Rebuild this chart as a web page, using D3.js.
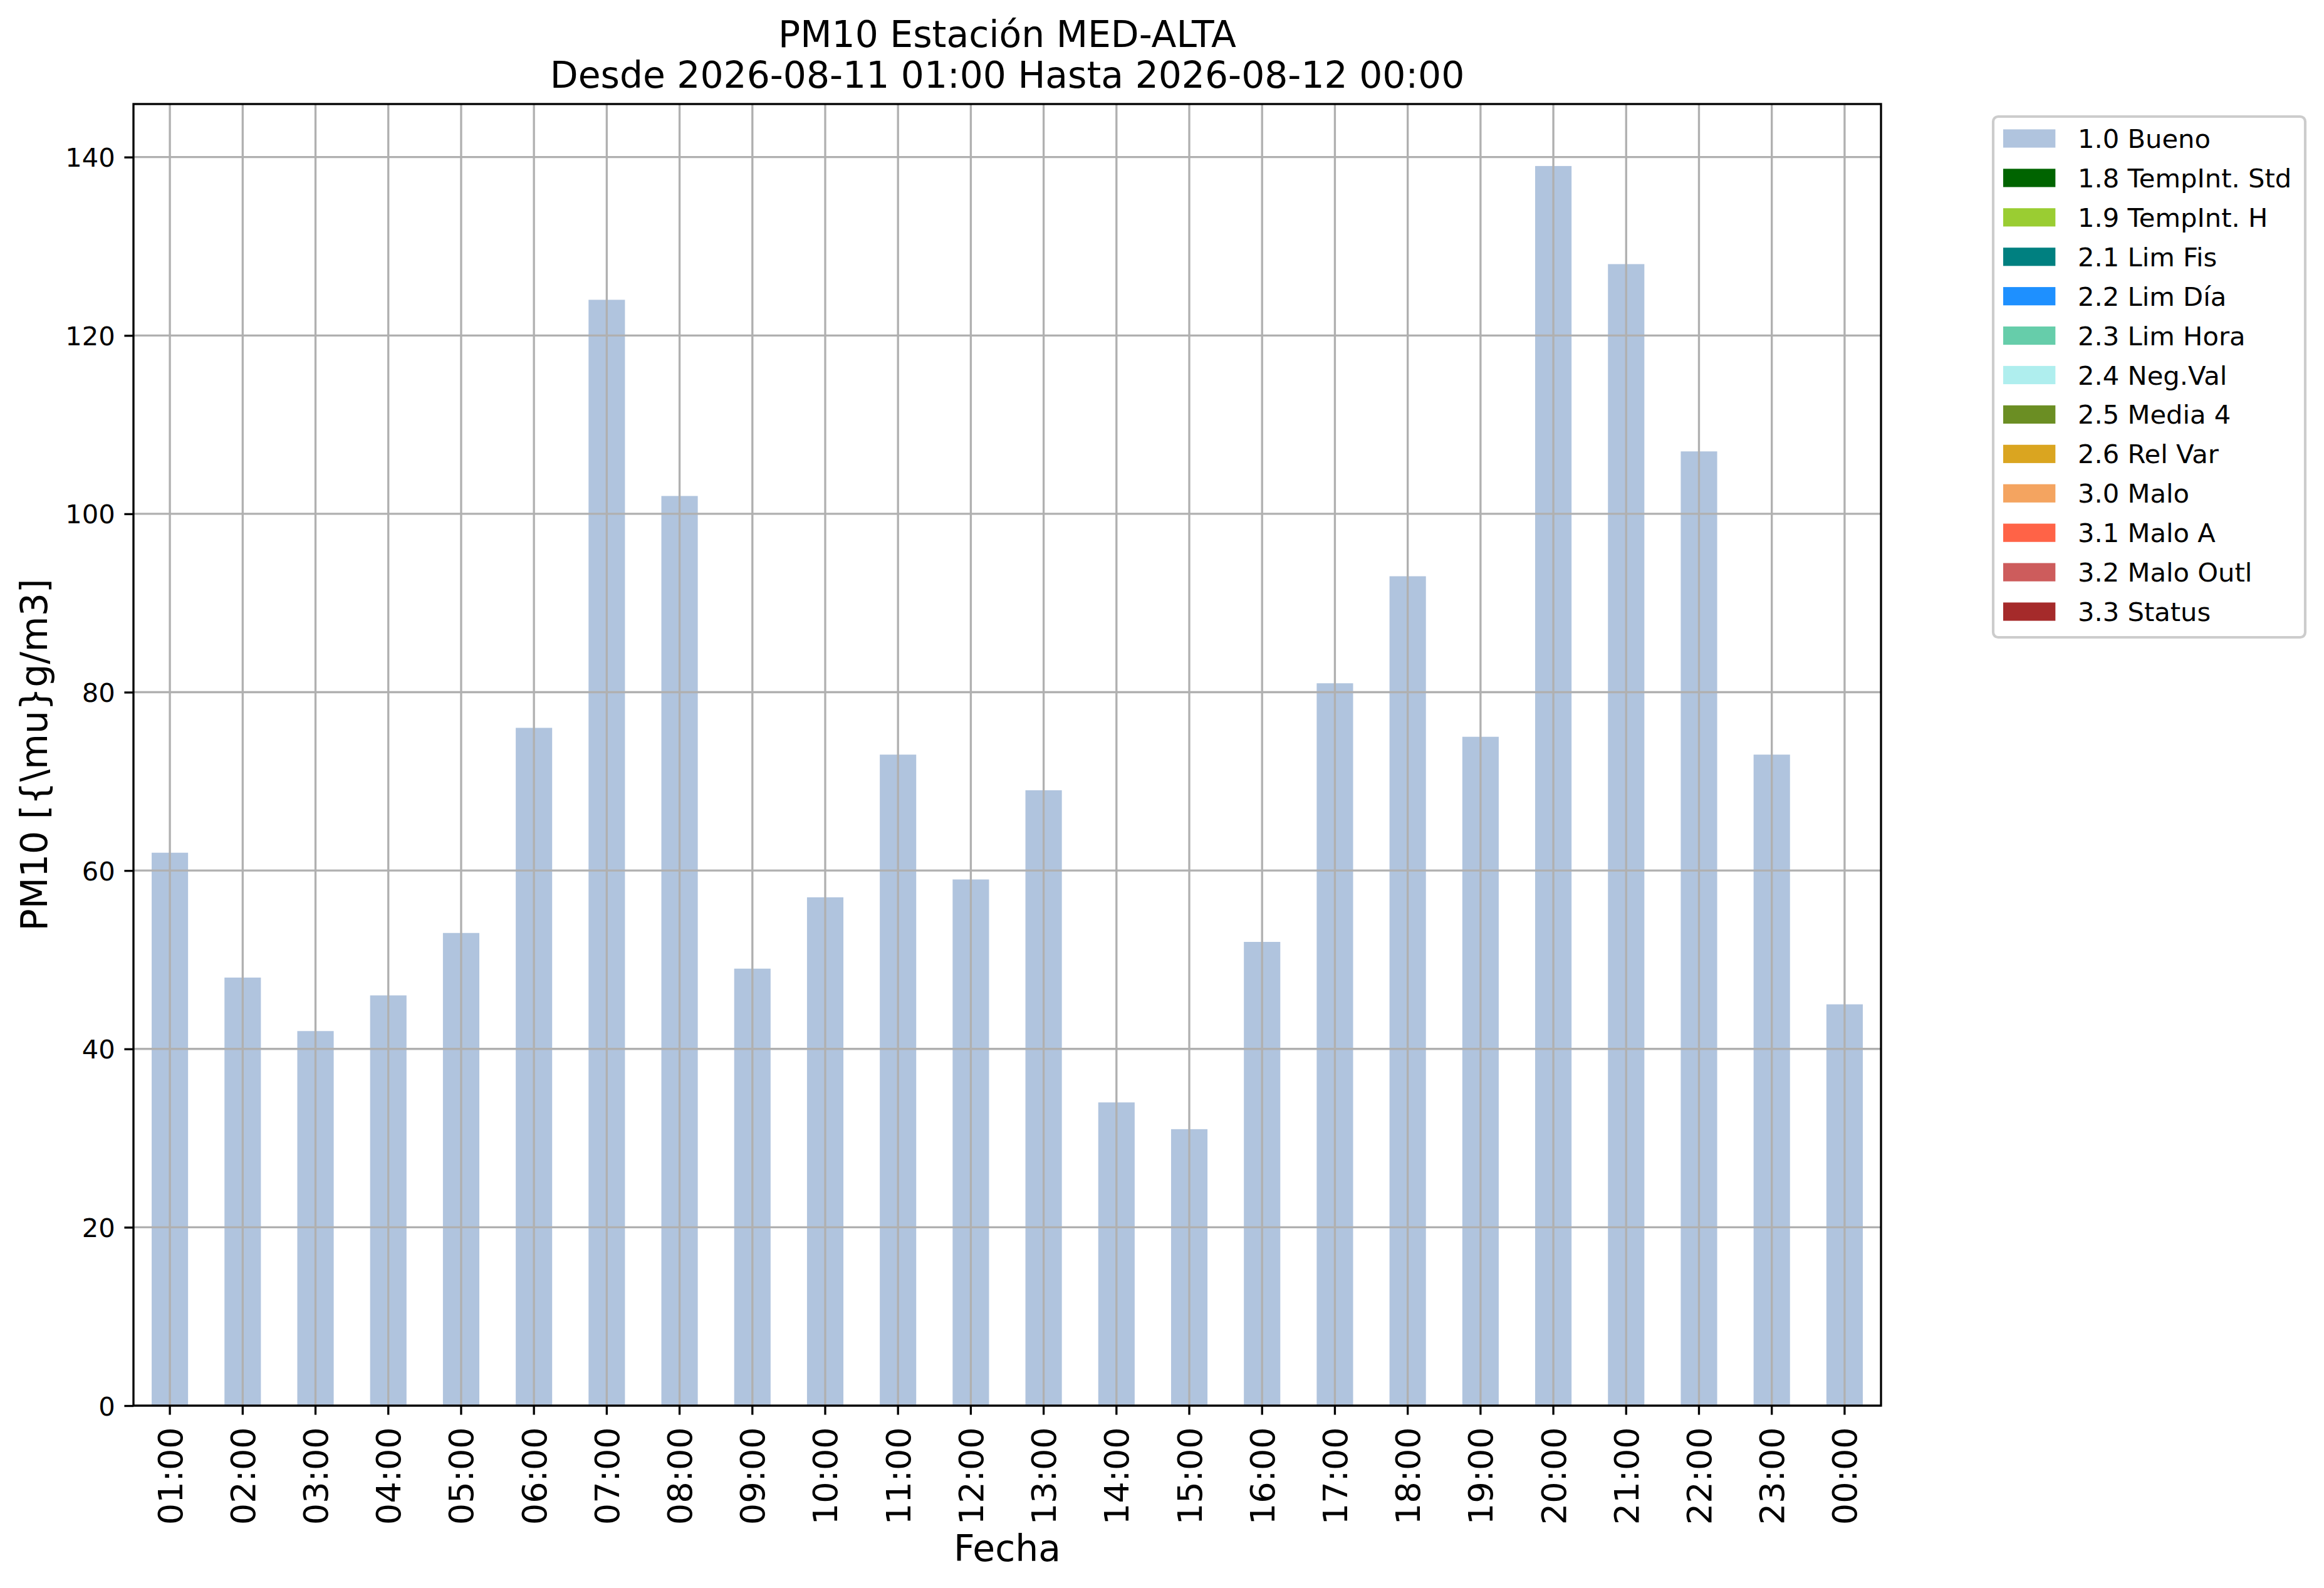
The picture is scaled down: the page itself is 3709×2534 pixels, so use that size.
<!DOCTYPE html>
<html>
<head>
<meta charset="utf-8">
<script src="https://cdn.jsdelivr.net/npm/d3@7"></script>
<style>
  body { margin: 0; background: #fff; }
  svg { display: block; font-family: "DejaVu Sans", sans-serif; }
</style>
</head>
<body>
<div id="chart"></div>
<script>
// hourly PM10 values, all flagged 1.0 Bueno
var hours = ["01:00", "02:00", "03:00", "04:00", "05:00", "06:00", "07:00", "08:00",
             "09:00", "10:00", "11:00", "12:00", "13:00", "14:00", "15:00", "16:00",
             "17:00", "18:00", "19:00", "20:00", "21:00", "22:00", "23:00", "00:00"];
var bueno = [62, 48, 42, 46, 53, 76, 124, 102, 49, 57, 73, 59,
             69, 34, 31, 52, 81, 93, 75, 139, 128, 107, 73, 45];
var yTicks = [0, 20, 40, 60, 80, 100, 120, 140];
var flagLabels = ["1.0 Bueno", "1.8 TempInt. Std", "1.9 TempInt. H", "2.1 Lim Fis",
                  "2.2 Lim Día", "2.3 Lim Hora", "2.4 Neg.Val", "2.5 Media 4",
                  "2.6 Rel Var", "3.0 Malo", "3.1 Malo A", "3.2 Malo Outl", "3.3 Status"];
var flagColors = ["#b0c4de", "#006400", "#9acd32", "#008080", "#1e90ff", "#66cdaa",
                  "#afeeee", "#6b8e23", "#daa520", "#f4a460", "#ff6347", "#cd5c5c", "#a52a2a"];

var W = 3709, H = 2534;
var pt = 4.1667;   // px per point
var margin = { left: 213, right: 3002, top: 166, bottom: 2243 };

var svg = d3.select("#chart").append("svg")
    .attr("width", W)
    .attr("height", H)
    .attr("viewBox", "0 0 " + W + " " + H);

svg.append("rect").attr("width", W).attr("height", H).attr("fill", "#fff");

var x = d3.scaleBand()
    .domain(hours)
    .range([margin.left, margin.right])
    .paddingInner(0.5)
    .paddingOuter(0.25);

var y = d3.scaleLinear()
    .domain([0, d3.max(bueno) * 1.05])
    .range([margin.bottom, margin.top]);

// bars
svg.append("g").selectAll("rect")
    .data(bueno)
    .join("rect")
    .attr("x", function(d, i) { return x(hours[i]); })
    .attr("y", function(d) { return y(d); })
    .attr("width", x.bandwidth())
    .attr("height", function(d) { return y(0) - y(d); })
    .attr("fill", flagColors[0]);

// grid (drawn over the bars like the original)
var grid = svg.append("g").attr("stroke", "#b0b0b0").attr("stroke-width", 0.8 * pt);
grid.selectAll("line.gx")
    .data(hours)
    .join("line")
    .attr("class", "gx")
    .attr("x1", function(d) { return x(d) + x.bandwidth() / 2; })
    .attr("x2", function(d) { return x(d) + x.bandwidth() / 2; })
    .attr("y1", margin.top)
    .attr("y2", margin.bottom);
grid.selectAll("line.gy")
    .data(yTicks)
    .join("line")
    .attr("class", "gy")
    .attr("x1", margin.left)
    .attr("x2", margin.right)
    .attr("y1", function(d) { return y(d); })
    .attr("y2", function(d) { return y(d); });

// axes
var yAxis = svg.append("g")
    .attr("transform", "translate(" + margin.left + ",0)")
    .call(d3.axisLeft(y).tickValues(yTicks).tickSize(3.5 * pt).tickPadding(3.5 * pt).tickFormat(d3.format("d")));
yAxis.select(".domain").remove();
yAxis.selectAll(".tick line").attr("stroke", "#000").attr("stroke-width", 0.8 * pt);
yAxis.selectAll(".tick text")
    .attr("font-size", 10 * pt)
    .attr("font-family", "DejaVu Sans")
    .attr("fill", "#000")
    .attr("dy", "0.36em");

var xAxis = svg.append("g")
    .attr("transform", "translate(0," + margin.bottom + ")")
    .call(d3.axisBottom(x).tickSize(3.5 * pt).tickPadding(0));
xAxis.select(".domain").remove();
xAxis.selectAll(".tick line").attr("stroke", "#000").attr("stroke-width", 0.8 * pt);
xAxis.selectAll(".tick text")
    .attr("font-size", 13 * pt)
    .attr("font-family", "DejaVu Sans")
    .attr("fill", "#000")
    .attr("text-anchor", "end")
    .attr("dy", "0.36em")
    .attr("y", 0)
    .attr("transform", "translate(0," + (7 * pt + 5) + ") rotate(-90)");

// frame
svg.append("rect")
    .attr("x", margin.left)
    .attr("y", margin.top)
    .attr("width", margin.right - margin.left)
    .attr("height", margin.bottom - margin.top)
    .attr("fill", "none")
    .attr("stroke", "#000")
    .attr("stroke-width", 0.8 * pt);

// titles
var cx = (margin.left + margin.right) / 2;
svg.append("text")
    .attr("x", cx).attr("y", 75)
    .attr("text-anchor", "middle")
    .attr("font-size", 14 * pt)
    .text("PM10 Estación MED-ALTA");
svg.append("text")
    .attr("x", cx).attr("y", 140)
    .attr("text-anchor", "middle")
    .attr("font-size", 14 * pt)
    .text("Desde 2026-08-11 01:00 Hasta 2026-08-12 00:00");

svg.append("text")
    .attr("x", cx).attr("y", 2491)
    .attr("text-anchor", "middle")
    .attr("font-size", 14 * pt)
    .text("Fecha");

svg.append("text")
    .attr("transform", "translate(75," + ((margin.top + margin.bottom) / 2) + ") rotate(-90)")
    .attr("text-anchor", "middle")
    .attr("font-size", 14 * pt)
    .text("PM10 [{\\mu}g/m3]");

// legend
var legend = svg.append("g");
legend.append("rect")
    .attr("x", 3181).attr("y", 186)
    .attr("width", 498).attr("height", 831)
    .attr("rx", 8).attr("ry", 8)
    .attr("fill", "#fff").attr("fill-opacity", 0.8)
    .attr("stroke", "#cccccc").attr("stroke-width", pt);

var rowY = d3.scaleLinear().domain([0, flagLabels.length - 1]).range([221, 976]);
var rows = legend.selectAll("g.row")
    .data(flagLabels)
    .join("g")
    .attr("class", "row")
    .attr("transform", function(d, i) { return "translate(0," + rowY(i) + ")"; });
rows.append("rect")
    .attr("x", 3197).attr("y", -0.35 * 10 * pt)
    .attr("width", 2 * 10 * pt).attr("height", 0.7 * 10 * pt)
    .attr("fill", function(d, i) { return flagColors[i]; });
rows.append("text")
    .attr("x", 3316).attr("y", 0)
    .attr("dy", "0.36em")
    .attr("font-size", 10 * pt)
    .attr("fill", "#000")
    .text(function(d) { return d; });
</script>
</body>
</html>
